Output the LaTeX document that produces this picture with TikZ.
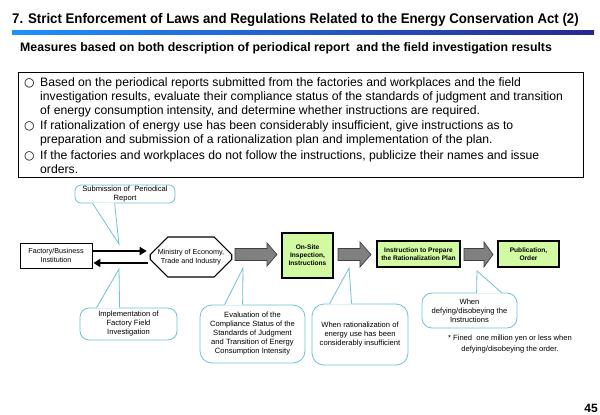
\documentclass[tikz,border=0pt]{standalone}
\usepackage{fontspec}
\setmainfont{Liberation Sans}
\newfontfamily\symfont{DejaVu Sans}
\usetikzlibrary{shapes.misc,arrows.meta,calc}
\definecolor{calloutblue}{RGB}{110,195,215}
\definecolor{boxgreen}{RGB}{210,250,160}
\definecolor{arrowgray}{RGB}{128,128,128}
\definecolor{arrowedge}{RGB}{64,64,64}
\definecolor{bardark}{RGB}{40,40,140}
\definecolor{barmid}{RGB}{30,95,215}
\definecolor{barlight}{RGB}{30,144,255}
\begin{document}
\begin{tikzpicture}[x=1pt,y=-1pt,
  titlefont/.style={font=\bfseries\addfontfeature{FakeStretch=0.945}\fontsize{14}{16}\selectfont},
  subfont/.style={font=\bfseries\fontsize{12.3}{14}\selectfont},
  bodyline/.style={anchor=base west,inner sep=0,font=\fontsize{12.2}{14}\selectfont},
  bulletmark/.style={anchor=base west,inner sep=0,font=\symfont\fontsize{12}{14}\selectfont},
  plainbox/.style={draw=black,line width=0.8pt,fill=white,align=center,inner sep=0,
    font=\fontsize{7.2}{8.5}\selectfont},
  greenbox/.style={draw=black,line width=1.3pt,fill=boxgreen,align=center,inner sep=0,
    font=\bfseries\fontsize{6.6}{8}\selectfont},
  callbox/.style={draw=calloutblue,line width=0.8pt,fill=white,align=center,inner sep=0,
    font=\fontsize{7.6}{9}\selectfont},
  callline/.style={draw=calloutblue,line width=0.8pt},
  blackarr/.style={line width=2pt,-{Triangle[length=7pt,width=8pt]}},
  grayarrow/.style={fill=arrowgray,draw=arrowedge,line width=0.7pt},
]
\useasboundingbox (0,0) rectangle (600,415);
\fill[white] (0,0) rectangle (600,415);

% title
\node[titlefont,anchor=west,inner sep=0] (title) at (12,20) {7. Strict Enforcement of Laws and Regulations Related to the Energy Conservation Act (2)};
\shade[left color=barlight,middle color=barmid,right color=bardark] (12,30) rectangle (594,34);
\node[subfont,anchor=west,inner sep=0] (sub) at (20,48) {Measures based on both description of periodical report~ and the field investigation results};

% bullet box
\node[draw=black,line width=0.8pt,minimum width=565,minimum height=105,inner sep=0] (box) at (300.5,124.5) {};
\node[bulletmark] (b1) at (24,86.5) {○};
\node[bodyline] (l1) at (40,86.5) {Based on the periodical reports submitted from the factories and workplaces and the field};
\node[bodyline] (l2) at (40,100.5) {investigation results, evaluate their compliance status of the standards of judgment and transition};
\node[bodyline] (l3) at (40,114.5) {of energy consumption intensity, and determine whether instructions are required.};
\node[bulletmark] (b2) at (24,129.5) {○};
\node[bodyline] (l4) at (40,129.5) {If rationalization of energy use has been considerably insufficient, give instructions as to};
\node[bodyline] (l5) at (40,143.5) {preparation and submission of a rationalization plan and implementation of the plan.};
\node[bulletmark] (b3) at (24,159) {○};
\node[bodyline] (l6) at (40,159) {If the factories and workplaces do not follow the instructions, publicize their names and issue};
\node[bodyline] (l7) at (40,173) {orders.};

% flow nodes
\node[plainbox,minimum width=72,minimum height=25] (factory) at (56,255.5) {Factory/Business\\Institution};
\node[plainbox,line width=1.1pt,chamfered rectangle,chamfered rectangle xsep=10pt,chamfered rectangle ysep=10pt,
  minimum width=78,minimum height=40] (ministry) at (191,257) {Ministry of Economy,\\Trade and Industry};
\node[greenbox,minimum width=51,minimum height=45] (onsite) at (307.5,255.5) {On-Site\\Inspection,\\Instructions};
\node[greenbox,minimum width=83,minimum height=26] (instr) at (418.5,254) {Instruction to Prepare\\the Rationalization Plan};
\node[greenbox,minimum width=61,minimum height=26] (pub) at (528.5,254) {Publication,\\Order};

% black arrows
\draw[blackarr] ($(factory.east)+(0.5,-4.5)$) -- ($(ministry.west)+(-3,-6)$);
\draw[blackarr] ($(ministry.west)+(-2,6)$) -- ($(factory.east)+(1,7.5)$);

% gray block arrows
\filldraw[grayarrow] (235,248.5) -- (267,248.5) -- (267,243) -- (277,254.5) -- (267,266) -- (267,260.5) -- (235,260.5) -- cycle;
\filldraw[grayarrow] (338,248.5) -- (360,248.5) -- (360,242) -- (371,254.5) -- (360,267) -- (360,260.5) -- (338,260.5) -- cycle;
\filldraw[grayarrow] (464,248.5) -- (484,248.5) -- (484,242) -- (493,254.5) -- (484,267) -- (484,260.5) -- (464,260.5) -- cycle;

% callouts
\node[callbox,rounded corners=6pt,minimum width=100,minimum height=18] (subm) at (125,194) {Submission of~ Periodical\\Report};
\node[callbox,rounded corners=9pt,minimum width=97,minimum height=32] (impl) at (128.5,324) {Implementation of\\Factory Field\\Investigation};
\node[callbox,rounded corners=12pt,minimum width=105,minimum height=58] (eval) at (252.5,334) {Evaluation of the\\Compliance Status of the\\Standards of Judgment\\and Transition of Energy\\Consumption Intensity};
\node[callbox,rounded corners=12pt,minimum width=96,minimum height=61] (ratio) at (360,334.5) {When rationalization of\\energy use has been\\considerably insufficient};
\node[callbox,rounded corners=10pt,minimum width=95,minimum height=35] (defy) at (469.5,310.5) {When\\defying/disobeying the\\Instructions};

\coordinate (t1) at (119,244);
\coordinate (t2) at (119,269);
\coordinate (t3) at (243,268);
\coordinate (t4) at (349,268);
\coordinate (t5) at (477,271);

\fill[white] ($(subm.south west)+(18,-0.8)$) -- (t1) -- ($(subm.south west)+(40,-0.8)$) -- cycle;
\draw[callline] ($(subm.south west)+(18,0)$) -- (t1) -- ($(subm.south west)+(40,0)$);
\fill[white] ($(impl.north west)+(17,0.8)$) -- (t2) -- ($(impl.north west)+(40,0.8)$) -- cycle;
\draw[callline] ($(impl.north west)+(17,0)$) -- (t2) -- ($(impl.north west)+(40,0)$);
\fill[white] ($(eval.north west)+(25,0.8)$) -- (t3) -- ($(eval.north west)+(43,0.8)$) -- cycle;
\draw[callline] ($(eval.north west)+(25,0)$) -- (t3) -- ($(eval.north west)+(43,0)$);
\fill[white] ($(ratio.north west)+(18,0.8)$) -- (t4) -- ($(ratio.north west)+(40,0.8)$) -- cycle;
\draw[callline] ($(ratio.north west)+(18,0)$) -- (t4) -- ($(ratio.north west)+(40,0)$);
\fill[white] ($(defy.north west)+(55,0.8)$) -- (t5) -- ($(defy.north west)+(80,0.8)$) -- cycle;
\draw[callline] ($(defy.north west)+(55,0)$) -- (t5) -- ($(defy.north west)+(80,0)$);

% note and page number
\node[align=center,inner sep=0,font=\fontsize{7.6}{11}\selectfont] (note) at (510,344.5) {* Fined~ one million yen or less when\\defying/disobeying the order.};
\node[inner sep=0,font=\bfseries\fontsize{12}{14}\selectfont] (page) at (591,408) {45};
\end{tikzpicture}
\end{document}
